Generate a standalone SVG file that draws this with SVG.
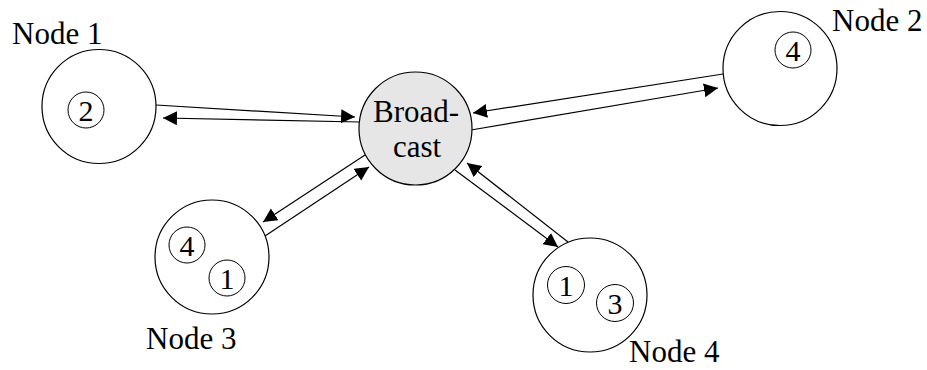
<svg xmlns="http://www.w3.org/2000/svg" width="927" height="370" viewBox="0 0 927 370">
<defs>
<marker id="ah" markerWidth="16" markerHeight="16" refX="14" refY="7" orient="auto" markerUnits="userSpaceOnUse"><path d="M0,0 L14,7 L0,14 z" fill="#000"/></marker>
<style>
.n{fill:#fff;stroke:#000;stroke-width:1.2}
.b{fill:#e6e6e6;stroke:#000;stroke-width:1.2}
.s{fill:#fff;stroke:#000;stroke-width:1}
.t{font-size:31px;fill:#000}
.d{font-size:30px;fill:#000;text-anchor:middle}
.c{stroke:#000;stroke-width:1.2;fill:none;marker-end:url(#ah)}
</style>
</defs>
<rect width="927" height="370" fill="#fff"/>
<g id="connectors">
<line class="c" x1="156" y1="105" x2="355" y2="117"/>
<line class="c" x1="360" y1="122" x2="163" y2="118"/>
<line class="c" x1="723" y1="74" x2="473" y2="113"/>
<line class="c" x1="471" y1="130" x2="718" y2="88"/>
<line class="c" x1="365" y1="155" x2="263" y2="222"/>
<line class="c" x1="265" y1="236" x2="369" y2="167"/>
<line class="c" x1="455" y1="170" x2="558" y2="247"/>
<line class="c" x1="568" y1="242" x2="467" y2="163"/>
</g>
<g font-family="Liberation Serif, Tinos, Times New Roman, DejaVu Serif, serif">
<g id="broadcast">
<circle class="b" cx="415.5" cy="128.5" r="56.5"/>
<text class="t" x="416" y="122" text-anchor="middle">Broad-</text>
<text class="t" x="417" y="157" text-anchor="middle">cast</text>
</g>
<g id="node1">
<circle class="n" cx="99" cy="106.5" r="57"/>
<circle class="s" cx="86" cy="110" r="18"/>
<text class="d" x="86" y="121">2</text>
<text class="t" x="12" y="44">Node 1</text>
</g>
<g id="node2">
<circle class="n" cx="780" cy="68.5" r="57"/>
<circle class="s" cx="793" cy="50" r="18"/>
<text class="d" x="793" y="61">4</text>
<text class="t" x="832" y="31">Node 2</text>
</g>
<g id="node3">
<circle class="n" cx="212" cy="257" r="57"/>
<circle class="s" cx="187" cy="245" r="18"/>
<text class="d" x="187" y="256">4</text>
<circle class="s" cx="227" cy="278" r="18"/>
<text class="d" x="227" y="289">1</text>
<text class="t" x="146" y="349">Node 3</text>
</g>
<g id="node4">
<circle class="n" cx="590" cy="295" r="57"/>
<circle class="s" cx="566" cy="285" r="18.5"/>
<text class="d" x="566" y="296">1</text>
<circle class="s" cx="615" cy="303" r="18.5"/>
<text class="d" x="615" y="314">3</text>
<text class="t" x="629" y="362">Node 4</text>
</g>
</g>
</svg>
